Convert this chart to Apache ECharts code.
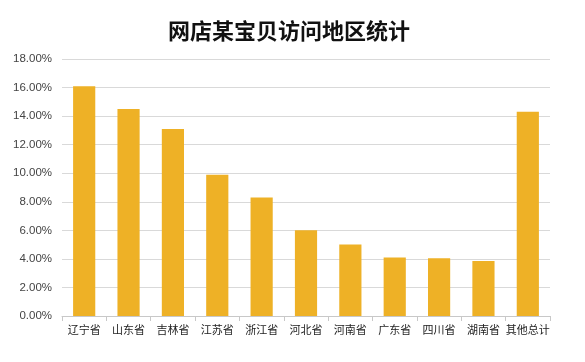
<!DOCTYPE html>
<html><head><meta charset="utf-8">
<script src="https://cdn.jsdelivr.net/npm/echarts@6/dist/echarts.min.js"></script>
<style>html,body{margin:0;padding:0;background:#fff}#c{width:585px;height:362px}</style>
</head><body><div id="c"></div>
<script>
var categories = ['辽宁省','山东省','吉林省','江苏省','浙江省','河北省','河南省','广东省','四川省','湖南省','其他总计'];
var values = [0.161, 0.145, 0.131, 0.099, 0.083, 0.060, 0.050, 0.041, 0.0405, 0.0385, 0.143];
var chart = echarts.init(document.getElementById('c'), null, {renderer:'canvas'});
chart.setOption({
  animation:false,
  backgroundColor:'#fff',
  title:{text:'网店某宝贝访问地区统计',left:163,top:15,
    textStyle:{fontFamily:'Noto Sans CJK SC',fontSize:22,fontWeight:'bold',color:'#111'}},
  grid:{left:62,right:35,top:59,bottom:46},
  xAxis:{type:'category',data:categories,
    axisLine:{lineStyle:{color:'#c8c8c8'}},
    axisTick:{show:true,alignWithLabel:false,length:5,lineStyle:{color:'#c8c8c8'}},
    axisLabel:{fontFamily:'Noto Sans CJK SC',fontSize:11,color:'#222',margin:8,interval:0}},
  yAxis:{type:'value',min:0,max:0.18,interval:0.02,
    axisLine:{show:false},axisTick:{show:false},
    splitLine:{lineStyle:{color:'#d9d9d9'}},
    axisLabel:{fontFamily:'Liberation Sans',fontSize:11.5,color:'#444',margin:10,
      formatter:function(v){return (v*100).toFixed(2)+'%';}}},
  series:[{type:'bar',data:values,barWidth:'50%',itemStyle:{color:'#EEB126'}}]
});
</script></body></html>
